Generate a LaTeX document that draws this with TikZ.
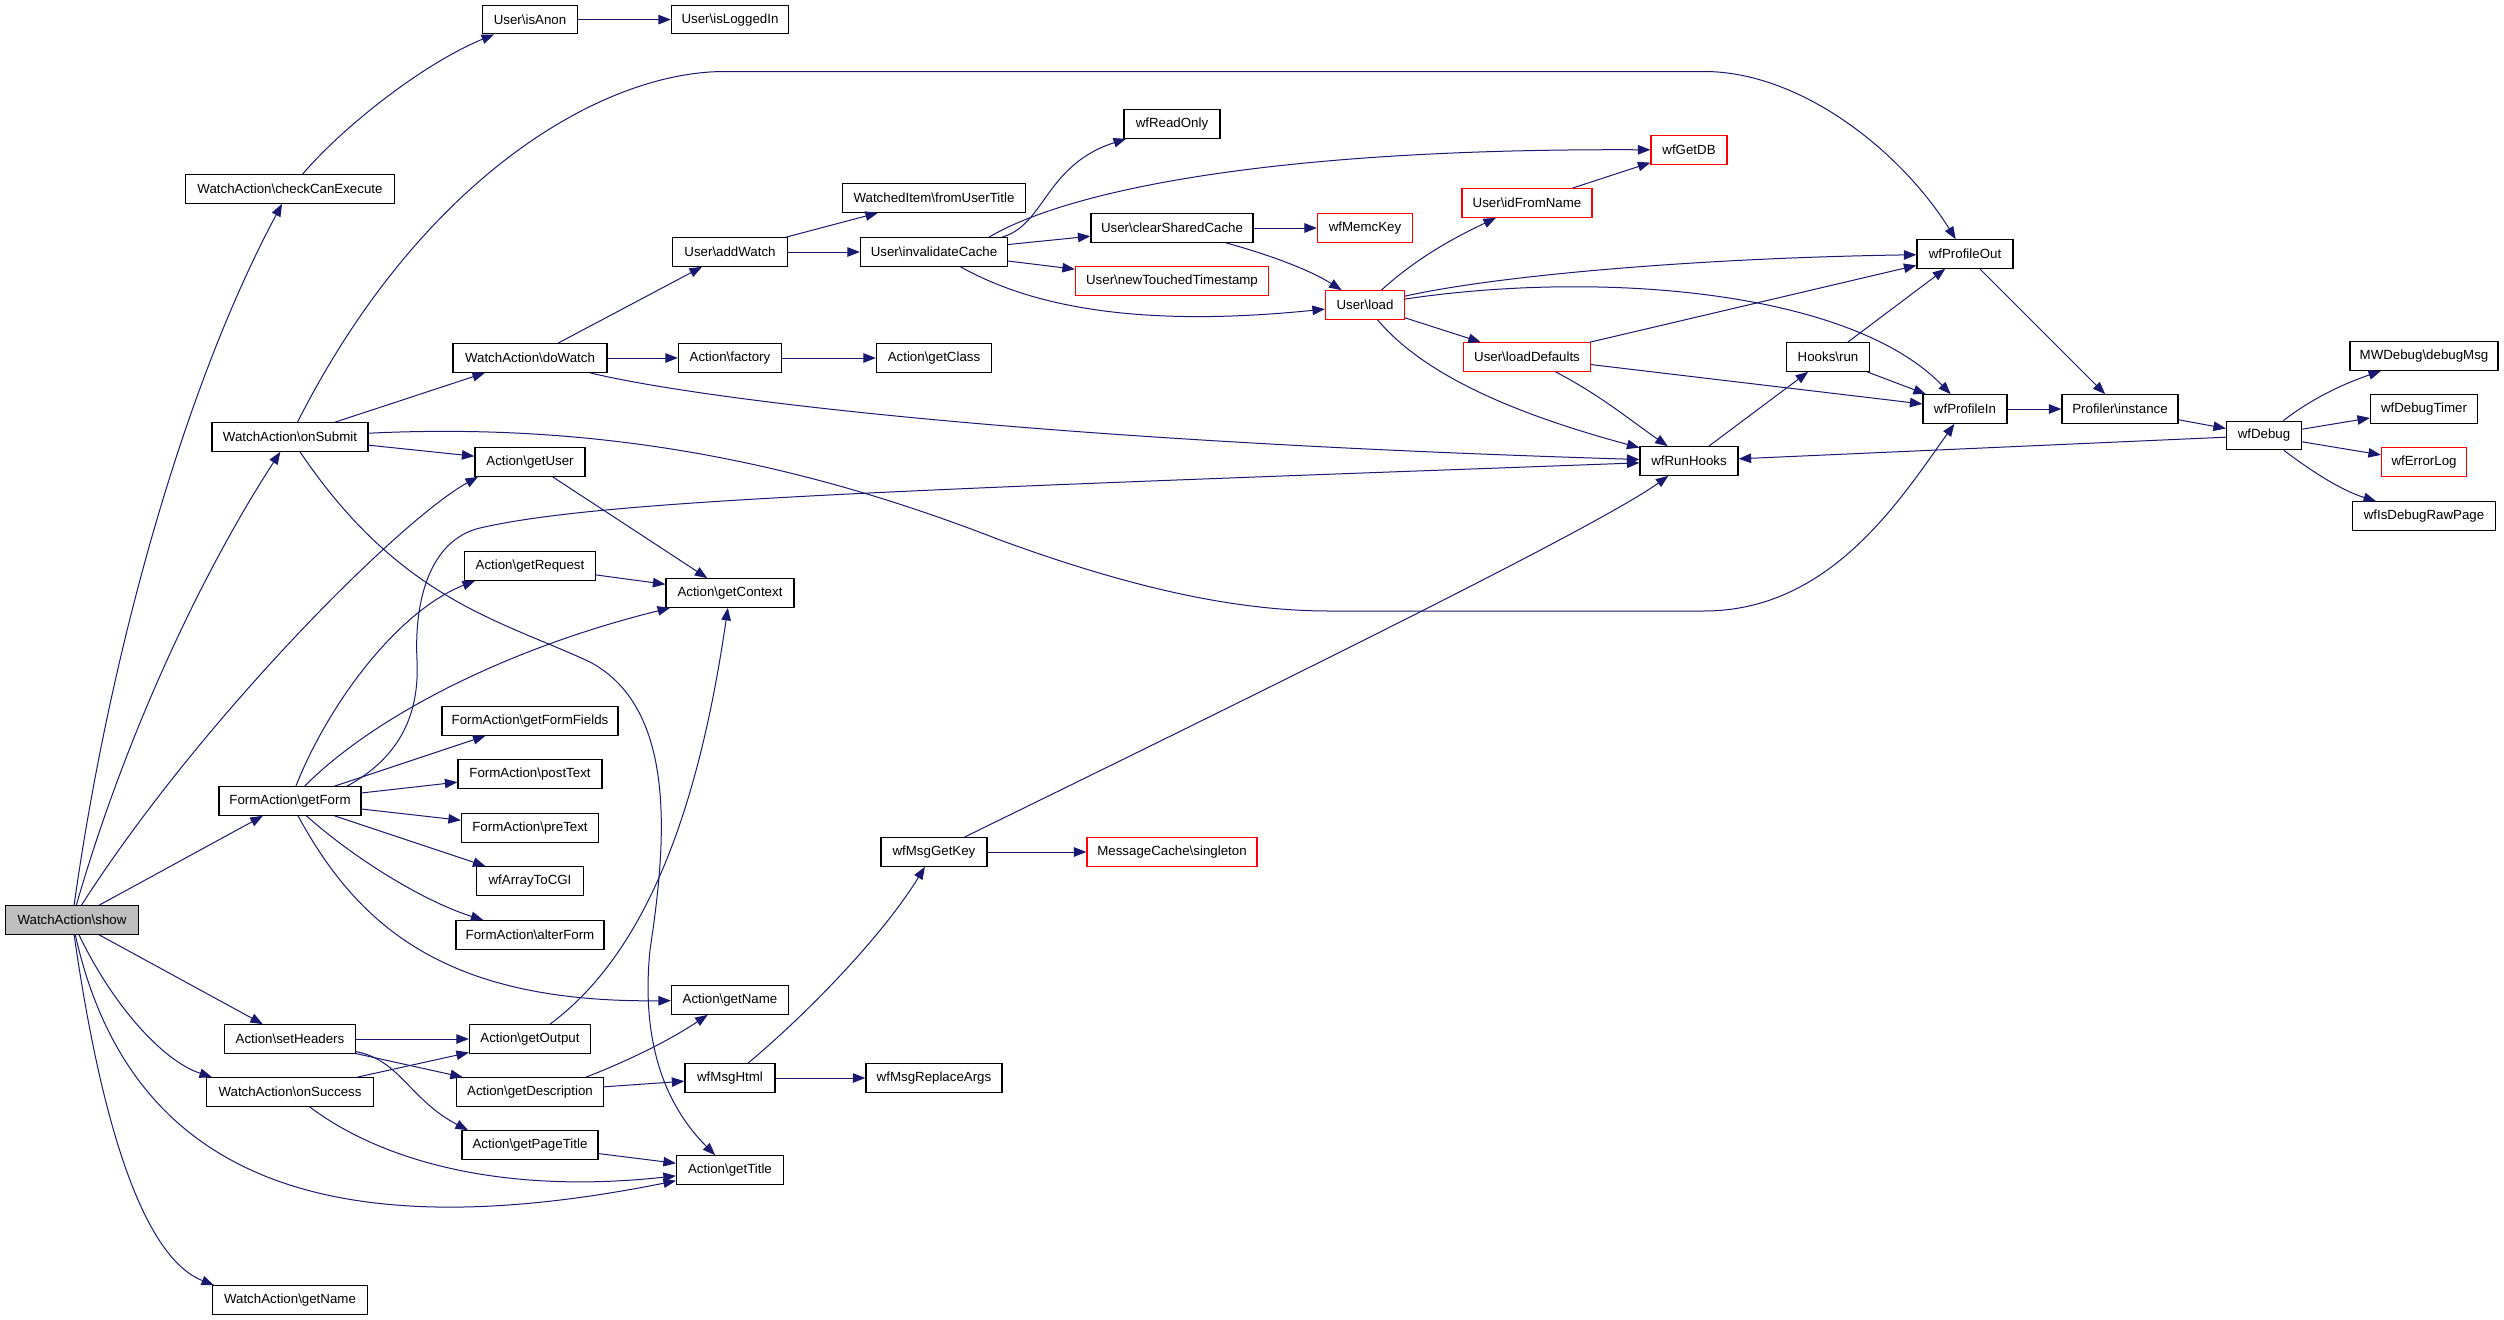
\documentclass[tikz,border=0pt]{standalone}
\usepackage{fontspec}
\setmainfont{Liberation Sans}
\usetikzlibrary{arrows.meta}
\definecolor{edgeblue}{HTML}{191970}
\definecolor{rootgray}{HTML}{BFBFBF}
\newcommand\bsl{\textbackslash}
\begin{document}
\begin{tikzpicture}[x=1pt,y=-1pt,
  box/.style={draw=black, line width=1.2pt, minimum height=28.5pt, inner sep=0pt,
    fill=white, text=black, font=\fontsize{13.3}{16}\selectfont},
  redbox/.style={box, draw=red},
  edge/.style={draw=edgeblue, line width=1pt, -{Triangle[length=12.5pt,width=9.5pt]}}]
\fill[white] (0,0) rectangle (2504,1320);
\useasboundingbox (0,0) rectangle (2504,1320);
% column 1
\node[box, fill=rootgray, minimum width=133pt] (show) at (72,920) {WatchAction\bsl show};
% column 2
\node[box, minimum width=209pt] (checkExec) at (290,189) {WatchAction\bsl checkCanExecute};
\node[box, minimum width=156pt] (onSubmit) at (290,437) {WatchAction\bsl onSubmit};
\node[box, minimum width=142pt] (getForm) at (290,801) {FormAction\bsl getForm};
\node[box, minimum width=131pt] (setHeaders) at (290,1039) {Action\bsl setHeaders};
\node[box, minimum width=167pt] (onSuccess) at (290,1092) {WatchAction\bsl onSuccess};
\node[box, minimum width=155pt] (waGetName) at (290,1300) {WatchAction\bsl getName};
% column 3
\node[box, minimum width=95pt] (isAnon) at (530,19.6) {User\bsl isAnon};
\node[box, minimum width=154pt] (doWatch) at (530,358) {WatchAction\bsl doWatch};
\node[box, minimum width=110pt] (getUser) at (530,462) {Action\bsl getUser};
\node[box, minimum width=131pt] (getRequest) at (530,566) {Action\bsl getRequest};
\node[box, minimum width=176pt] (getFormFields) at (530,721) {FormAction\bsl getFormFields};
\node[box, minimum width=144pt] (postText) at (530,774) {FormAction\bsl postText};
\node[box, minimum width=137pt] (preText) at (530,828) {FormAction\bsl preText};
\node[box, minimum width=107pt] (arrayToCGI) at (530,881) {wfArrayToCGI};
\node[box, minimum width=148pt] (alterForm) at (530,935) {FormAction\bsl alterForm};
\node[box, minimum width=121pt] (getOutput) at (530,1039) {Action\bsl getOutput};
\node[box, minimum width=147pt] (getDescription) at (530,1092) {Action\bsl getDescription};
\node[box, minimum width=136pt] (getPageTitle) at (530,1145) {Action\bsl getPageTitle};
% column 4
\node[box, minimum width=117pt] (isLoggedIn) at (730,19.6) {User\bsl isLoggedIn};
\node[box, minimum width=115pt] (addWatch) at (730,252) {User\bsl addWatch};
\node[box, minimum width=103pt] (factory) at (730,358) {Action\bsl factory};
\node[box, minimum width=128pt] (getContext) at (730,593) {Action\bsl getContext};
\node[box, minimum width=117pt] (getName) at (730,1000) {Action\bsl getName};
\node[box, minimum width=90pt] (msgHtml) at (730,1078) {wfMsgHtml};
\node[box, minimum width=107pt] (getTitle) at (730,1170) {Action\bsl getTitle};
% column 5
\node[box, minimum width=183pt] (fromUserTitle) at (934,198) {WatchedItem\bsl fromUserTitle};
\node[box, minimum width=147pt] (invCache) at (934,252) {User\bsl invalidateCache};
\node[box, minimum width=115pt] (getClass) at (934,358) {Action\bsl getClass};
\node[box, minimum width=106pt] (msgGetKey) at (934,852) {wfMsgGetKey};
\node[box, minimum width=136pt] (msgReplace) at (934,1078) {wfMsgReplaceArgs};
% column 6
\node[box, minimum width=96pt] (readOnly) at (1172,124) {wfReadOnly};
\node[box, minimum width=162pt] (clearCache) at (1172,228) {User\bsl clearSharedCache};
\node[redbox, minimum width=193pt] (newTouched) at (1172,281) {User\bsl newTouchedTimestamp};
\node[redbox, minimum width=170pt] (msgCache) at (1172,852) {MessageCache\bsl singleton};
% column 7
\node[redbox, minimum width=95pt] (memcKey) at (1365,228) {wfMemcKey};
\node[redbox, minimum width=79pt] (load) at (1365,305) {User\bsl load};
% column 8
\node[redbox, minimum width=130pt] (idFromName) at (1527,203) {User\bsl idFromName};
\node[redbox, minimum width=127pt] (loadDefaults) at (1527,357) {User\bsl loadDefaults};
% column 9
\node[redbox, minimum width=76pt] (getDB) at (1689,150) {wfGetDB};
\node[box, minimum width=98pt] (runHooks) at (1689,461) {wfRunHooks};
% column 10
\node[box, minimum width=83pt] (hooksRun) at (1828,357) {Hooks\bsl run};
% column 11
\node[box, minimum width=96pt] (profOut) at (1965,254) {wfProfileOut};
\node[box, minimum width=84pt] (profIn) at (1965,409) {wfProfileIn};
% column 12
\node[box, minimum width=116pt] (profiler) at (2120,409) {Profiler\bsl instance};
% column 13
\node[box, minimum width=75pt] (debug) at (2264,435.5) {wfDebug};
% column 14
\node[box, minimum width=148pt] (debugMsg) at (2424,356) {MWDebug\bsl debugMsg};
\node[box, minimum width=107pt] (debugTimer) at (2424,409) {wfDebugTimer};
\node[redbox, minimum width=85pt] (errorLog) at (2424,462) {wfErrorLog};
\node[box, minimum width=143pt] (rawPage) at (2424,516) {wfIsDebugRawPage};

% ---------- edges ----------
% from WatchAction\show
\draw[edge] (show) .. controls (110,650) and (185,385) .. (checkExec);
\draw[edge] (show) .. controls (130,720) and (210,560) .. (onSubmit);
\draw[edge] (show) .. controls (200,720) and (400,520) .. ([xshift=-52pt]getUser.south);
\draw[edge] (show) -- (getForm);
\draw[edge] (show) -- (setHeaders);
\draw[edge] (show) .. controls (110,1000) and (160,1060) .. ([xshift=-78pt]onSuccess.north);
\draw[edge] (show) .. controls (130,1180) and (330,1250) .. (getTitle);
\draw[edge] (show) .. controls (105,1150) and (150,1260) .. ([xshift=-76pt]waGetName.north);
% checkCanExecute
\draw[edge] (checkExec) .. controls (340,130) and (420,65) .. (isAnon);
\draw[edge] (isAnon) -- (isLoggedIn);
% onSubmit
\draw[edge] (onSubmit) .. controls (420,180) and (600,71.5) .. (725,71.5) -- (1704,71.5)
  .. controls (1800,71.5) and (1900,150) .. (profOut);
\draw[edge] (onSubmit) -- (doWatch);
\draw[edge] (onSubmit) -- (getUser);
\draw[edge] (onSubmit) .. controls (600,422) and (800,462) .. (1000,540)
  .. controls (1150,595) and (1250,611) .. (1330,611) -- (1704,611)
  .. controls (1830,611) and (1900,500) .. (profIn);
\draw[edge] (onSubmit) .. controls (400,600) and (500,620) .. (590,662)
  .. controls (680,710) and (665,850) .. (650,950)
  .. controls (640,1050) and (670,1110) .. (getTitle);
% doWatch
\draw[edge] (doWatch) -- (addWatch);
\draw[edge] (doWatch) -- (factory);
\draw[edge] (doWatch) .. controls (680,395) and (1000,440) .. (runHooks);
\draw[edge] (addWatch) -- (fromUserTitle);
\draw[edge] (addWatch) -- (invCache);
\draw[edge] (factory) -- (getClass);
% invalidateCache
\draw[edge] ([xshift=68pt]invCache.north) .. controls (1045,225) and (1045,165) .. (readOnly);
\draw[edge] ([xshift=55pt]invCache.north) .. controls (1060,195) and (1250,148) .. (getDB);
\draw[edge] (invCache) -- (clearCache);
\draw[edge] (invCache) -- (newTouched);
\draw[edge] (invCache) .. controls (1020,300) and (1120,330) .. (load);
\draw[edge] (clearCache) -- (memcKey);
\draw[edge] (clearCache) .. controls (1270,255) and (1310,270) .. (load);
% User\load
\draw[edge] (load) .. controls (1420,255) and (1460,235) .. (idFromName);
\draw[edge] (load) .. controls (1500,275) and (1700,258) .. (profOut);
\draw[edge] (load) .. controls (1600,270) and (1850,290) .. (profIn);
\draw[edge] (load) -- (loadDefaults);
\draw[edge] (load) .. controls (1420,370) and (1500,410) .. (runHooks);
\draw[edge] (idFromName) -- (getDB);
\draw[edge] (loadDefaults) -- (profOut);
\draw[edge] (loadDefaults) -- (profIn);
\draw[edge] (loadDefaults) .. controls (1600,395) and (1630,420) .. (runHooks);
% hooks / profiler / debug
\draw[edge] (runHooks) -- (hooksRun);
\draw[edge] (hooksRun) -- (profOut);
\draw[edge] (hooksRun) -- (profIn);
\draw[edge] (profOut) -- (profiler);
\draw[edge] (profIn) -- (profiler);
\draw[edge] (profiler) -- (debug);
\draw[edge] (debug) .. controls (2310,400) and (2340,385) .. (debugMsg);
\draw[edge] (debug) -- (debugTimer);
\draw[edge] (debug) -- (errorLog);
\draw[edge] (debug) .. controls (2310,470) and (2340,490) .. (rawPage);
\draw[edge] (debug) -- (runHooks);
% getUser / getRequest
\draw[edge] (getUser) -- (getContext);
\draw[edge] (getRequest) -- (getContext);
% getForm
\draw[edge] (getForm) .. controls (330,700) and (400,610) .. ([xshift=-55pt]getRequest.south);
\draw[edge] (getForm) .. controls (370,720) and (500,650) .. (getContext);
\draw[edge] ([xshift=57pt]getForm.north) .. controls (395,760) and (420,720) .. (417,660)
  .. controls (414,600) and (430,540) .. (480,528)
  .. controls (600,500) and (900,490) .. (runHooks);
\draw[edge] (getForm) -- (getFormFields);
\draw[edge] (getForm) -- (postText);
\draw[edge] (getForm) -- (preText);
\draw[edge] (getForm) -- (arrayToCGI);
\draw[edge] (getForm) .. controls (350,855) and (420,900) .. (alterForm);
\draw[edge] (getForm) .. controls (360,930) and (450,1003) .. (getName);
% setHeaders / onSuccess
\draw[edge] (setHeaders) -- (getOutput);
\draw[edge] (setHeaders) -- (getDescription);
\draw[edge] (setHeaders) .. controls (400,1060) and (410,1100) .. ([xshift=-62pt]getPageTitle.north);
\draw[edge] (onSuccess) -- (getOutput);
\draw[edge] (onSuccess) .. controls (380,1160) and (500,1195) .. (getTitle);
% column 3 sources
\draw[edge] (getOutput) .. controls (650,950) and (700,800) .. (getContext);
\draw[edge] ([xshift=56pt]getDescription.north) .. controls (630,1060) and (670,1040) .. (getName);
\draw[edge] (getDescription) -- (msgHtml);
\draw[edge] (getPageTitle) -- (getTitle);
% messages
\draw[edge] (msgHtml) .. controls (800,1020) and (880,940) .. (msgGetKey);
\draw[edge] (msgHtml) -- (msgReplace);
\draw[edge] (msgGetKey) -- (msgCache);
\draw[edge] (msgGetKey) .. controls (1300,673) and (1600,525) .. (runHooks);
\end{tikzpicture}
\end{document}
